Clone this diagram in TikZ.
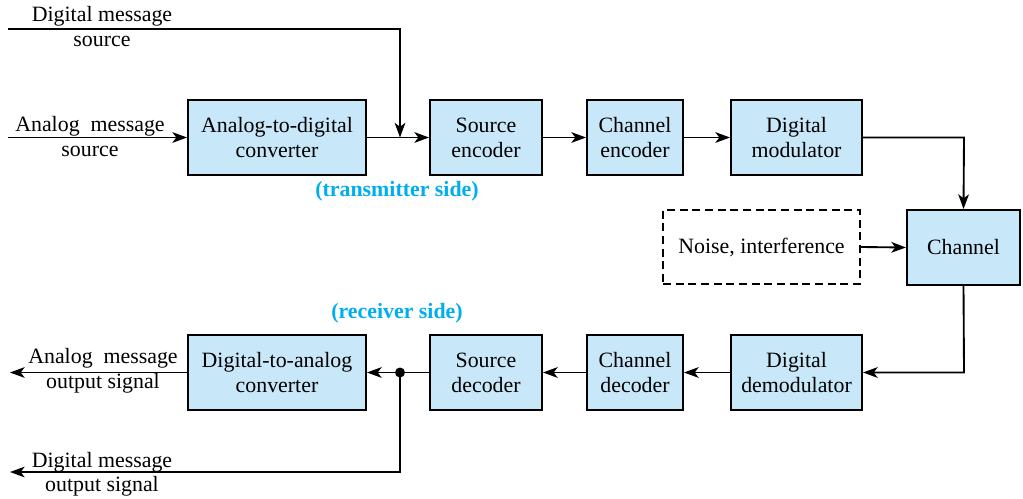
\documentclass[tikz,border=0pt]{standalone}
\usepackage{fontspec}
\setmainfont{Liberation Serif}
\usetikzlibrary{arrows.meta}
\definecolor{boxfill}{RGB}{200,232,250}
\definecolor{sidecol}{RGB}{0,174,239}
\begin{document}
\begin{tikzpicture}[x=0.75pt,y=-0.75pt,
  font=\fontsize{16.4}{18.8}\selectfont,
  blk/.style={draw,line width=1.5pt,fill=boxfill,align=center,inner sep=0pt},
  noisebox/.style={draw,line width=1.5pt,dash pattern=on 6pt off 3.5pt,align=center,inner sep=0pt},
  conn/.style={line width=1.4pt,-{Stealth[length=11pt,width=8pt,inset=3pt]}},
  lab/.style={align=center,inner sep=0pt},
  side/.style={text=sidecol,font=\fontsize{16.4}{18.8}\selectfont\bfseries,inner sep=0pt}]
\useasboundingbox (0,0) rectangle (1023,499);
% transmitter boxes
\node[blk,minimum width=178*0.75pt,minimum height=75*0.75pt] (adc) at (277,137.5) {Analog-to-digital\\converter};
\node[blk,minimum width=112*0.75pt,minimum height=75*0.75pt] (senc) at (486,137.5) {Source\\encoder};
\node[blk,minimum width=96*0.75pt,minimum height=75*0.75pt] (cenc) at (635,137.5) {Channel\\encoder};
\node[blk,minimum width=131*0.75pt,minimum height=75*0.75pt] (mod) at (796.5,137.5) {Digital\\modulator};
% channel
\node[blk,minimum width=113*0.75pt,minimum height=75*0.75pt] (chan) at (963.5,247.5) {Channel};
\node[noisebox,minimum width=197*0.75pt,minimum height=74*0.75pt] (noise) at (761.5,247) {Noise, interference};
% receiver boxes
\node[blk,minimum width=131*0.75pt,minimum height=75*0.75pt] (demod) at (796.5,372.5) {Digital\\demodulator};
\node[blk,minimum width=96*0.75pt,minimum height=75*0.75pt] (cdec) at (635,372.5) {Channel\\decoder};
\node[blk,minimum width=112*0.75pt,minimum height=75*0.75pt] (sdec) at (486,372.5) {Source\\decoder};
\node[blk,minimum width=178*0.75pt,minimum height=75*0.75pt] (dac) at (277,372.5) {Digital-to-analog\\converter};
% coordinates
\coordinate (ain) at (8,137.5);
\coordinate (din) at (8,29);
\coordinate (dcorner) at (400,29);
\coordinate (djoin) at (400,137.5);
\coordinate (mc) at (964,137.5);
\coordinate (cc) at (964,372.5);
\coordinate (aout) at (10,372.5);
\coordinate (dcorner2) at (400,472);
\coordinate (dout) at (10,472);
\coordinate (dot) at (400,372.5);
% connectors
\draw[conn] (ain) -- (adc.west);
\draw[conn] (din) -- (dcorner) -- (djoin);
\draw[conn] (adc.east) -- (senc.west);
\draw[conn] (senc.east) -- (cenc.west);
\draw[conn] (cenc.east) -- (mod.west);
\draw[conn] (mod.east) -- (mc) -- (chan.north);
\draw[conn] (noise.east) -- (chan.west);
\draw[conn] (chan.south) -- (cc) -- (demod.east);
\draw[conn] (demod.west) -- (cdec.east);
\draw[conn] (cdec.west) -- (sdec.east);
\draw[conn] (sdec.west) -- (dac.east);
\draw[conn] (dac.west) -- (aout);
\draw[conn] (dot) -- (dcorner2) -- (dout);
\fill (dot) circle (5);
% labels
\node[lab] (l1) at (102,16) {Digital message};
\node[lab] (l2) at (102,41) {source};
\node[lab] (l3) at (90,126) {Analog\ \ message};
\node[lab] (l4) at (90,151) {source};
\node[side] (tx) at (397,191) {(transmitter side)};
\node[side] (rx) at (397,313) {(receiver side)};
\node[lab] (l5) at (103,358) {Analog\ \ message};
\node[lab] (l6) at (103,383) {output signal};
\node[lab] (l7) at (102,462) {Digital message};
\node[lab] (l8) at (102,486) {output signal};
\end{tikzpicture}
\end{document}
